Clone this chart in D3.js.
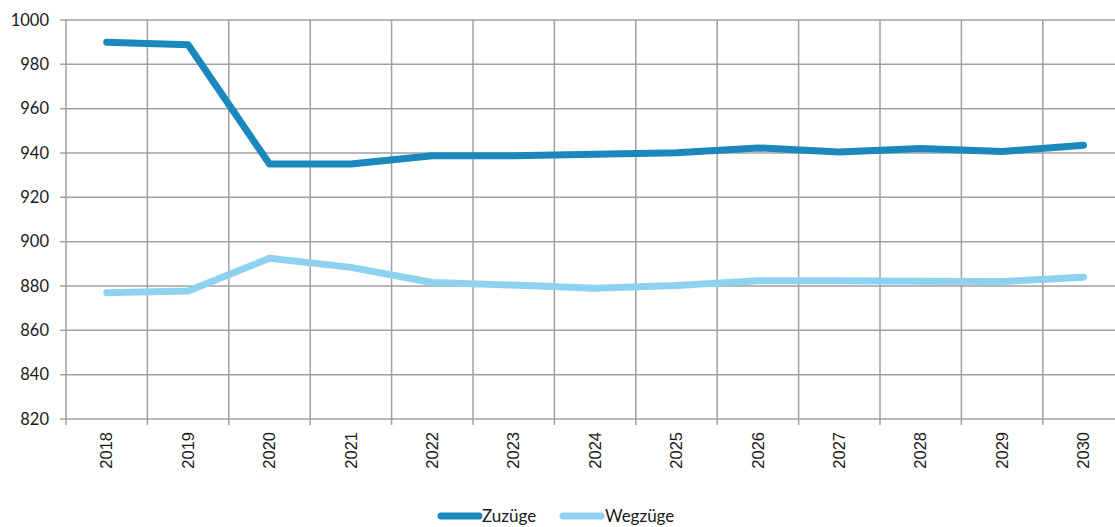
<!DOCTYPE html>
<html><head><meta charset="utf-8">
<script src="https://cdn.jsdelivr.net/npm/d3@7"></script>
<style>body{margin:0;background:#fff;}svg{display:block;}</style>
</head><body>
<svg id="c" width="1115" height="527"></svg>
<script>
const years = ["2018","2019","2020","2021","2022","2023","2024","2025","2026","2027","2028","2029","2030"];
const zuzuege = [990, 988.8, 935, 935, 938.8, 938.8, 939.4, 940.1, 942.3, 940.4, 942.0, 940.7, 943.5];
const wegzuege = [877, 877.8, 892.5, 888.4, 881.6, 880.4, 879.0, 880.2, 882.4, 882.4, 882.1, 882.0, 884.0];
const yTicks = [820, 840, 860, 880, 900, 920, 940, 960, 980, 1000];
const seriesNames = ["Zuzüge", "Wegzüge"];
const colors = ["#1a88bd", "#8ed1f1"];

const svg = d3.select("#c");
const L = 66, T = 20, B = 419, R = 66 + 13 * 81.4;
const x = d3.scaleBand().domain(years).range([L, R]);
const y = d3.scaleLinear().domain([820, 1000]).range([B, T]);
const grid = "#a0a0a0";

// horizontal grid
svg.append("g").selectAll("line").data(yTicks).join("line")
  .attr("x1", L - 6).attr("x2", R).attr("y1", d => y(d)).attr("y2", d => y(d))
  .attr("stroke", grid).attr("stroke-width", 1.5);
// vertical grid (band boundaries)
const bounds = years.map(d => x(d)).concat([R]);
svg.append("g").selectAll("line").data(bounds).join("line")
  .attr("x1", d => d).attr("x2", d => d).attr("y1", T).attr("y2", B + 6)
  .attr("stroke", grid).attr("stroke-width", 1.5);

// y labels
svg.append("g").selectAll("text").data(yTicks).join("text")
  .attr("x", 49).attr("y", d => y(d)).attr("dy", "0.35em")
  .attr("text-anchor", "end").attr("font-family", "Lato, 'Open Sans', sans-serif")
  .attr("font-size", 16.5).attr("fill", "#1a1a1a").text(d => d);

// x labels
svg.append("g").selectAll("text").data(years).join("text")
  .attr("transform", d => `translate(${x(d) + x.bandwidth() / 2},432) rotate(-90)`)
  .attr("text-anchor", "end").attr("dy", "0.35em")
  .attr("font-family", "'Liberation Sans', Arial, sans-serif")
  .attr("font-size", 16.5).attr("fill", "#1a1a1a").text(d => d);

const line = d3.line().x((d, i) => x(years[i]) + x.bandwidth() / 2).y(d => y(d));
[zuzuege, wegzuege].forEach((s, k) => {
  svg.append("path").datum(s).attr("d", line).attr("fill", "none")
    .attr("stroke", colors[k]).attr("stroke-width", 7)
    .attr("stroke-linecap", "round").attr("stroke-linejoin", "round");
});

// legend
const lg = [{x: 441, tx: 482}, {x: 563, tx: 605}];
seriesNames.forEach((n, k) => {
  svg.append("line").attr("x1", lg[k].x).attr("x2", lg[k].x + 38)
    .attr("y1", 516).attr("y2", 516).attr("stroke", colors[k])
    .attr("stroke-width", 7).attr("stroke-linecap", "round");
  svg.append("text").attr("x", lg[k].tx).attr("y", 516).attr("dy", "0.35em")
    .attr("font-family", "Lato, 'Open Sans', sans-serif").attr("font-size", 17)
    .attr("fill", "#1a1a1a").text(n);
});
</script>
</body></html>
